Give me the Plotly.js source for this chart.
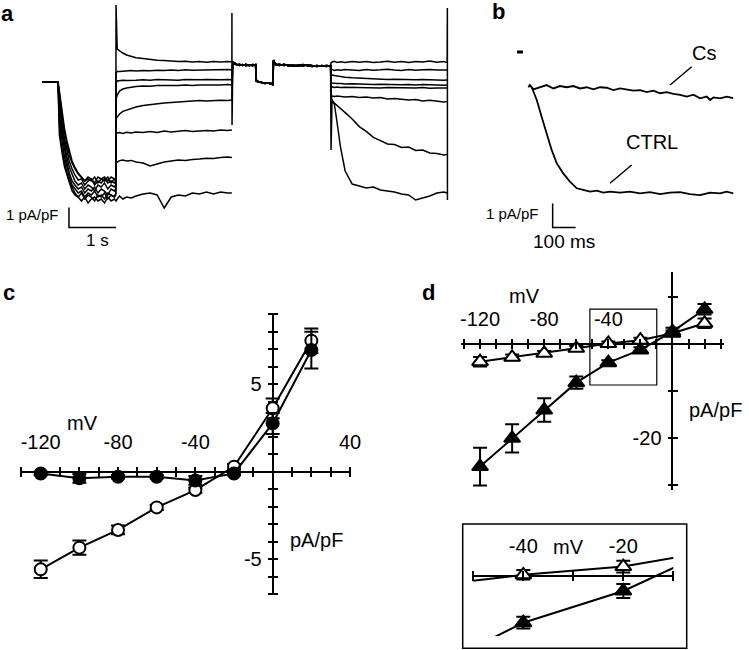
<!DOCTYPE html>
<html><head><meta charset="utf-8">
<script src="https://cdn.plot.ly/plotly-3.0.1.min.js"></script>
<style>html,body{margin:0;padding:0;background:#fff}#chart{width:749px;height:650px}</style>
</head><body><div id="chart"></div>
<script>
// ================= DATA =================
// ---- Panel a: current traces (time in s, current in pA/pF) ----
const aHoldT = [0, 0.34];
const aHoldI = [-0.85, -0.85];

const aStepT = [0.34, 0.37, 0.40, 0.44, 0.48, 0.53, 0.58, 0.64, 0.70, 0.77, 0.84, 0.91, 0.98, 1.05, 1.12, 1.19, 1.26, 1.33, 1.40, 1.47, 1.54, 1.57];
const aStepI1 = [-0.85, -3.0, -3.8, -4.4, -4.9, -5.4, -5.8, -6.1, -6.4, -6.6, -6.4, -6.7, -6.5, -6.6, -6.8, -6.5, -6.6, -6.4, -6.7, -6.5, -6.6, -6.5];
const aStepI2 = [-0.85, -2.0, -3.0, -3.7, -4.3, -4.9, -5.4, -5.8, -6.0, -6.2, -6.1, -6.4, -6.2, -6.3, -6.1, -6.4, -6.2, -6.3, -6.5, -6.2, -6.3, -6.2];
const aStepI3 = [-0.85, -1.6, -2.4, -3.1, -3.7, -4.3, -4.8, -5.2, -5.5, -5.75, -5.7, -6.0, -5.8, -5.7, -6.0, -5.8, -5.9, -5.7, -5.9, -5.8, -5.9, -5.8];
const aStepI4 = [-0.85, -1.4, -2.1, -2.8, -3.4, -4.0, -4.5, -4.9, -5.2, -5.45, -5.6, -5.8, -5.6, -5.7, -5.9, -5.6, -5.7, -5.6, -5.8, -5.6, -5.7, -5.7];
const aStepI5 = [-0.85, -2.5, -3.4, -4.0, -4.6, -5.1, -5.6, -6.0, -6.2, -6.4, -6.3, -6.6, -6.4, -6.5, -6.3, -6.6, -6.5, -6.7, -6.4, -6.5, -6.6, -6.4];
const aStepI6 = [-0.85, -1.8, -2.7, -3.4, -4.0, -4.6, -5.1, -5.5, -5.8, -6.0, -5.9, -6.2, -6.0, -6.1, -6.3, -6.0, -6.1, -5.9, -6.2, -6.0, -6.1, -6.0];
const aStepI7 = [-0.85, -1.3, -1.9, -2.6, -3.2, -3.8, -4.3, -4.8, -5.1, -5.4, -5.6, -5.8, -5.7, -5.8, -5.6, -5.9, -5.7, -5.8, -5.6, -5.9, -5.7, -5.8];
const aStepI8 = [-0.85, -3.5, -4.1, -4.6, -5.1, -5.5, -5.9, -6.3, -6.5, -6.6, -6.8, -6.6, -6.9, -6.7, -6.6, -6.8, -6.7, -6.9, -6.6, -6.8, -6.7, -6.8];

const aTestT = [1.575, 1.60, 1.65, 1.72, 1.80, 1.90, 2.00, 2.15, 2.30, 2.45, 2.60, 2.75, 2.90, 3.05, 3.20, 3.35, 3.50, 3.65, 3.80, 3.95, 4.04];
const aTestI1 = [3.0, 0.8, 0.7, 0.6, 0.5, 0.42, 0.36, 0.32, 0.27, 0.24, 0.22, 0.2, 0.17, 0.19, 0.15, 0.18, 0.14, 0.17, 0.15, 0.17, 0.15];
const aTestI2 = [-0.38, -0.33, -0.32, -0.3, -0.31, -0.28, -0.3, -0.27, -0.29, -0.26, -0.28, -0.25, -0.27, -0.24, -0.26, -0.25, -0.27, -0.24, -0.25, -0.23, -0.25];
const aTestI3 = [-0.9, -0.8, -0.78, -0.76, -0.77, -0.75, -0.76, -0.74, -0.76, -0.73, -0.75, -0.74, -0.76, -0.73, -0.75, -0.74, -0.73, -0.75, -0.74, -0.72, -0.74];
const aTestI4 = [-1.7, -1.5, -1.3, -1.2, -1.15, -1.1, -1.08, -1.05, -1.06, -1.03, -1.04, -1.02, -1.03, -1.0, -1.02, -1.0, -1.01, -0.99, -1.0, -0.98, -1.0];
const aTestI5 = [-2.7, -2.6, -2.45, -2.32, -2.25, -2.17, -2.1, -2.03, -1.98, -1.95, -1.9, -1.88, -1.85, -1.83, -1.82, -1.78, -1.8, -1.77, -1.76, -1.78, -1.75];
const aTestI6 = [-3.45, -3.4, -3.38, -3.42, -3.36, -3.4, -3.35, -3.38, -3.33, -3.37, -3.3, -3.35, -3.32, -3.28, -3.33, -3.3, -3.27, -3.3, -3.25, -3.28, -3.25];
const aTestI7 = [-4.9, -4.85, -4.78, -4.75, -4.8, -4.77, -4.85, -4.9, -5.05, -4.95, -4.85, -4.8, -4.75, -4.78, -4.72, -4.7, -4.66, -4.68, -4.62, -4.6, -4.62];
const aTestI8 = [-6.8, -6.7, -6.55, -6.7, -6.6, -6.65, -6.55, -6.45, -6.4, -6.5, -7.15, -6.6, -6.5, -6.55, -6.4, -6.45, -6.35, -6.45, -6.35, -6.4, -6.4];

// capacitive transient at the end of the test step (first trace)
const aOffT1 = [4.041, 4.043];
const aOffI1 = [2.6, -3.0];

const aMidT = [4.06, 4.10, 4.15, 4.20, 4.27, 4.34, 4.41, 4.48, 4.545, 4.555, 4.60, 4.67, 4.74, 4.81, 4.88, 4.915, 4.925, 4.97, 5.05, 5.15, 5.25, 5.35, 5.45, 5.55, 5.65, 5.75, 5.85, 5.95, 6.05, 6.14];
const aMidIA = [0.1, 0.05, 0.0, 0.04, -0.02, 0.03, -0.03, 0.02, 0.0, -0.8, -0.85, -0.88, -0.9, -0.92, -0.95, -0.93, 0.2, 0.05, -0.02, 0.03, -0.05, 0.0, -0.06, 0.02, -0.04, -0.07, -0.02, -0.06, -0.03, -0.05];
const aMidIB = [0.15, 0.08, 0.03, -0.02, 0.02, -0.04, 0.01, -0.03, 0.02, -0.75, -0.82, -0.86, -0.92, -0.9, -0.97, -0.98, 0.25, 0.0, 0.04, -0.03, 0.01, -0.06, 0.0, -0.05, 0.01, -0.04, -0.08, -0.03, -0.07, -0.02];

const aTailT = [6.15, 6.17, 6.22, 6.28, 6.35, 6.45, 6.60, 6.75, 6.90, 7.05, 7.20, 7.35, 7.50, 7.65, 7.80, 7.95, 8.10, 8.25, 8.40, 8.55, 8.62];
const aTailI1 = [0.12, 0.15, 0.18, 0.13, 0.16, 0.12, 0.17, 0.14, 0.18, 0.13, 0.15, 0.19, 0.14, 0.17, 0.12, 0.18, 0.15, 0.2, 0.14, 0.17, 0.12];
const aTailI2 = [-0.25, -0.22, -0.27, -0.24, -0.26, -0.22, -0.25, -0.27, -0.23, -0.26, -0.24, -0.21, -0.25, -0.27, -0.23, -0.26, -0.24, -0.22, -0.25, -0.23, -0.25];
const aTailI3 = [-0.45, -0.5, -0.53, -0.56, -0.58, -0.61, -0.64, -0.66, -0.68, -0.69, -0.7, -0.72, -0.71, -0.73, -0.72, -0.74, -0.73, -0.75, -0.74, -0.76, -0.75];
const aTailI4 = [-0.88, -0.9, -0.92, -0.93, -0.92, -0.95, -0.94, -0.96, -0.95, -0.97, -0.96, -0.98, -0.97, -0.99, -0.98, -1.0, -0.98, -1.0, -0.99, -1.01, -1.0];
const aTailI5 = [-1.08, -1.1, -1.12, -1.1, -1.13, -1.11, -1.12, -1.14, -1.12, -1.13, -1.15, -1.13, -1.14, -1.16, -1.14, -1.15, -1.13, -1.16, -1.15, -1.14, -1.15];
const aTailI6 = [-1.5, -1.55, -1.57, -1.55, -1.58, -1.6, -1.57, -1.62, -1.6, -1.65, -1.63, -1.7, -1.68, -1.72, -1.75, -1.73, -1.8, -1.76, -1.82, -1.85, -1.83];
const aTailI7 = [-1.5, -1.75, -1.9, -2.02, -2.15, -2.38, -2.7, -3.08, -3.32, -3.62, -3.78, -3.95, -3.98, -4.12, -4.1, -4.27, -4.25, -4.4, -4.42, -4.5, -4.48];
const aTailI8 = [-4.25, -1.8, -1.95, -2.9, -4.1, -5.3, -5.95, -6.05, -6.15, -6.1, -6.25, -6.3, -6.35, -6.45, -6.5, -6.75, -6.65, -6.55, -6.4, -6.35, -6.4];

// end-of-step transient (first trace)
const aEndT1 = [8.625, 8.627];
const aEndI1 = [2.85, -6.75];

// scale bar a: 1 s x 1 pA/pF
const aBarT = [0.574, 0.574, 1.574];
const aBarI = [-7.125, -8.125, -8.125];

// ---- Panel b (time in ms, current in pA/pF) ----
const bDashT = [0, 26];
const bDashI = [1.46, 1.46];
const bCsT = [49, 56, 71, 100, 129, 158, 187, 216, 245, 274, 303, 332, 361, 390, 419, 448, 477, 506, 535, 564, 593, 622, 651, 680, 709, 738, 767, 796, 825, 840, 854, 883, 912, 940];
const bCsI = [-0.01, 0.08, -0.10, -0.01, 0.08, -0.06, 0.04, -0.01, 0.04, -0.06, -0.01, -0.10, -0.01, -0.03, -0.13, -0.06, -0.10, -0.15, -0.13, -0.21, -0.15, -0.26, -0.21, -0.29, -0.33, -0.40, -0.32, -0.47, -0.40, -0.54, -0.43, -0.47, -0.40, -0.46];
const bCtrlT = [64, 86, 107, 129, 151, 173, 201, 230, 260, 288, 317, 347, 375, 404, 448, 491, 535, 578, 622, 665, 709, 752, 796, 839, 883, 912, 940];
const bCtrlI = [-0.01, -0.54, -1.24, -1.93, -2.63, -3.18, -3.60, -3.94, -4.22, -4.29, -4.36, -4.32, -4.40, -4.36, -4.40, -4.36, -4.43, -4.38, -4.46, -4.40, -4.38, -4.46, -4.50, -4.40, -4.43, -4.36, -4.43];
const bBarT = [155, 155, 255];
const bBarI = [-4.85, -5.85, -5.85];

// ---- Panel c: I-V (mV, pA/pF) ----
const cV = [-120, -100, -80, -60, -40, -20, 0, 20];
const cCtrl = [-5.58, -4.34, -3.33, -2.04, -1.05, 0.29, 3.62, 7.49];
const cCtrlErr = [0.5, 0.41, 0.25, 0.15, 0.15, 0.15, 0.57, 0.7];
const cCs = [-0.1, -0.38, -0.29, -0.29, -0.5, -0.1, 2.76, 6.95];
const cCsErr = [0.1, 0.25, 0.1, 0.1, 0.25, 0.1, 0.6, 1.05];
const cXTickV = [-130, -120, -110, -100, -90, -80, -70, -60, -50, -40, -30, -20, -10, 0, 10, 20, 30, 40];
const cXTickT = ['', '-120', '', '', '', '-80', '', '', '', '-40', '', '', '', '', '', '', '', '40'];
const cYTickV = [-7, -6, -5, -4, -3, -2, -1, 0, 1, 2, 3, 4, 5, 6, 7, 8, 9];
const cYTickT = ['', '', '-5', '', '', '', '', '', '', '', '', '', '5', '', '', '', ''];

// ---- Panel d: I-V (mV, pA/pF) ----
const dV = [-120, -100, -80, -60, -40, -20, 0, 20];
const dFilled = [-26.0, -20.0, -14.0, -8.2, -3.96, -1.27, 2.62, 7.35];
const dFilledErr = [4.0, 3.0, 2.5, 1.3, 0.5, 0.6, 0.8, 1.1];
const dOpen = [-3.75, -2.83, -1.98, -0.92, 0.1, 0.8, 2.26, 4.38];
const dOpenErr = [1.0, 0.6, 0.5, 0.5, 0.4, 0.5, 0.6, 1.0];
const dXTickV = [-130, -120, -110, -100, -90, -80, -70, -60, -50, -40, -30, -20, -10, 0, 10, 20, 30];
const dXTickT = ['', '-120', '', '', '', '-80', '', '', '', '-40', '', '', '', '', '', '', ''];
const dYTickV = [-30, -20, -10, 0, 10];
const dYTickT = ['', '-20', '', '', ''];
const eXTickV = [-50, -40, -30, -20, -10];
const eXTickT = ['', '-40', '', '-20', ''];

// ================= BUILD =================
const W = 749, H = 650;
const px = p => p / W;
const py = p => 1 - p / H;
const FONT = 'Liberation Sans, Arial, Helvetica, sans-serif';

function concat(parts) {
  const x = [], y = [];
  parts.forEach(p => {
    if (p === null) { x.push(null); y.push(null); }
    else { x.push(...p[0]); y.push(...p[1]); }
  });
  return {x, y};
}
function aLine(parts) {
  const d = concat(parts);
  return {x: d.x, y: d.y, xaxis: 'x', yaxis: 'y', type: 'scatter', mode: 'lines',
    line: {color: '#000', width: 1.5}, hoverinfo: 'skip', showlegend: false};
}
const aStepI = [aStepI1, aStepI2, aStepI3, aStepI4, aStepI5, aStepI6, aStepI7, aStepI8];
const aTestI = [aTestI1, aTestI2, aTestI3, aTestI4, aTestI5, aTestI6, aTestI7, aTestI8];
const aTailI = [aTailI1, aTailI2, aTailI3, aTailI4, aTailI5, aTailI6, aTailI7, aTailI8];

const traces = [];
for (let k = 0; k < 8; k++) {
  const parts = [[aHoldT, aHoldI], [aStepT, aStepI[k]], [aTestT, aTestI[k]]];
  if (k === 0) parts.push([aOffT1, aOffI1]);
  if (k >= 5) parts.push(null);
  parts.push([aMidT, k % 2 === 0 ? aMidIA : aMidIB]);
  parts.push([aTailT, aTailI[k]]);
  if (k === 0) parts.push([aEndT1, aEndI1]);
  traces.push(aLine(parts));
}
traces.push({x: aBarT, y: aBarI, xaxis: 'x', yaxis: 'y', mode: 'lines', line: {color: '#000', width: 1.5}, hoverinfo: 'skip', showlegend: false});

// panel b
const bBase = {xaxis: 'x2', yaxis: 'y2', type: 'scatter', mode: 'lines', hoverinfo: 'skip', showlegend: false};
traces.push(Object.assign({}, bBase, {x: bDashT, y: bDashI, line: {color: '#000', width: 3}}));
traces.push(Object.assign({}, bBase, {x: bCsT, y: bCsI, line: {color: '#000', width: 1.8}}));
traces.push(Object.assign({}, bBase, {x: bCtrlT, y: bCtrlI, line: {color: '#000', width: 1.8}}));
traces.push(Object.assign({}, bBase, {x: bBarT, y: bBarI, line: {color: '#000', width: 1.5}}));

// panel c
function ivTrace(xa, ya, xs, ys, errs, symbol, filled, size, cap) {
  return {x: xs, y: ys, xaxis: xa, yaxis: ya, type: 'scatter', mode: 'lines+markers',
    line: {color: '#000', width: 2},
    marker: {symbol: symbol, size: size, color: filled ? '#000' : '#fff', line: {color: '#000', width: 2}},
    error_y: {type: 'data', array: errs, visible: true, color: '#000', thickness: 2, width: cap},
    hoverinfo: 'skip', showlegend: false};
}
traces.push(ivTrace('x3', 'y3', cV, cCtrl, cCtrlErr, 'circle', false, 12, 7));
traces.push(ivTrace('x3', 'y3', cV, cCs, cCsErr, 'circle', true, 12, 7));
// panel d
traces.push(ivTrace('x4', 'y4', dV, dOpen, dOpenErr, 'triangle-up', false, 14, 7));
traces.push(ivTrace('x4', 'y4', dV, dFilled, dFilledErr, 'triangle-up', true, 14, 7));
// inset
traces.push(ivTrace('x5', 'y5', dV, dOpen, dOpenErr, 'triangle-up', false, 14, 7));
traces.push(ivTrace('x5', 'y5', dV, dFilled, dFilledErr, 'triangle-up', true, 14, 7));

function crossAxisX(domainPx, range, posPy, tv, tt, standoff) {
  return {domain: [px(domainPx[0]), px(domainPx[1])], range: range, anchor: 'free', position: py(posPy),
    side: 'top', tickmode: 'array', tickvals: tv, ticktext: tt, ticks: 'outside', ticklen: 10, tickwidth: 2,
    tickcolor: '#000', showgrid: false, showline: false, zeroline: true, zerolinecolor: '#000', zerolinewidth: 2,
    tickfont: {family: FONT, size: 20, color: '#000'}, ticklabelstandoff: standoff, fixedrange: true};
}
function crossAxisY(domainPy, range, posPx, tv, tt, standoff) {
  return {domain: [py(domainPy[0]), py(domainPy[1])], range: range, anchor: 'free', position: px(posPx),
    side: 'left', tickmode: 'array', tickvals: tv, ticktext: tt, ticks: 'outside', ticklen: 10, tickwidth: 2,
    tickcolor: '#000', showgrid: false, showline: false, zeroline: true, zerolinecolor: '#000', zerolinewidth: 2,
    tickfont: {family: FONT, size: 20, color: '#000'}, ticklabelstandoff: standoff, fixedrange: true};
}

function ann(text, xp, yp, size, opts) {
  return Object.assign({text: text, x: px(xp), y: py(yp), xref: 'paper', yref: 'paper', showarrow: false,
    xanchor: 'center', yanchor: 'middle', font: {family: FONT, size: size, color: '#000'}}, opts || {});
}
function seg(x0, y0, x1, y1, w) {
  return {type: 'line', xref: 'paper', yref: 'paper', x0: px(x0), y0: py(y0), x1: px(x1), y1: py(y1),
    line: {color: '#000', width: w || 1.5}};
}

const layout = {
  width: W, height: H, margin: {l: 0, r: 0, t: 0, b: 0},
  paper_bgcolor: '#fff', plot_bgcolor: 'rgba(0,0,0,0)',
  font: {family: FONT, color: '#000'},
  showlegend: false,
  xaxis: {domain: [px(40), px(450)], range: [-0.0426, 8.681], visible: false, anchor: 'y', fixedrange: true},
  yaxis: {domain: [py(250), py(0)], range: [-9.25, 3.25], visible: false, anchor: 'x', fixedrange: true},
  xaxis2: {domain: [px(470), px(745)], range: [-204.35, 991.3], visible: false, anchor: 'y2', fixedrange: true},
  yaxis2: {domain: [py(250), py(0)], range: [-6.79, 3.625], visible: false, anchor: 'x2', fixedrange: true},
  xaxis3: crossAxisX([21.4, 350], [-130, 40], 476.7, cXTickV, cXTickT, 10),
  yaxis3: crossAxisY([594.2, 314.2], [-7, 9], 277.7, cYTickV, cYTickT, 2),
  xaxis4: crossAxisX([460.8, 723.8], [-132, 32], 349, dXTickV, dXTickT, 5),
  yaxis4: crossAxisY([490.2, 271.8], [-31, 15.3], 677.5, dYTickV, dYTickT, 2),
  xaxis5: crossAxisX([473.3, 673.3], [-50, -10], 581, eXTickV, eXTickT, 10),
  yaxis5: {domain: [py(635.9), py(540)], range: [-5.08, 3.05], anchor: 'x5', showticklabels: false, ticks: '',
    showgrid: false, showline: false, zeroline: true, zerolinecolor: '#000', zerolinewidth: 2, fixedrange: true},
  annotations: [
    ann('<b>a</b>', 7.5, 14, 22),
    ann('<b>b</b>', 498, 12, 22),
    ann('<b>c</b>', 8.5, 292, 22),
    ann('<b>d</b>', 428, 292, 22),
    ann('1 pA/pF', 61, 214, 15, {xanchor: 'right'}),
    ann('1 s', 98, 241, 17),
    ann('1 pA/pF', 541, 213, 15, {xanchor: 'right'}),
    ann('100 ms', 564, 242, 19),
    ann('Cs', 704, 53, 20),
    ann('CTRL', 651.5, 142, 20),
    ann('mV', 82.5, 423, 20),
    ann('pA/pF', 316, 540, 20),
    ann('mV', 524, 296, 20),
    ann('pA/pF', 715, 410, 20),
    ann('mV', 568, 547, 20)
  ],
  shapes: [
    seg(691.7, 66.7, 670, 85),
    seg(631.7, 165, 610, 183.3),
    {type: 'rect', xref: 'x4', yref: 'y4', x0: -51.5, x1: -9.8, y0: -8.7, y1: 7.4, line: {color: '#000', width: 1.2}},
    {type: 'rect', xref: 'paper', yref: 'paper', x0: px(462.7), x1: px(686.7), y0: py(648.3), y1: py(524), line: {color: '#000', width: 1.5}}
  ]
};

Plotly.newPlot('chart', traces, layout, {staticPlot: true, displayModeBar: false});
</script>
</body></html>
